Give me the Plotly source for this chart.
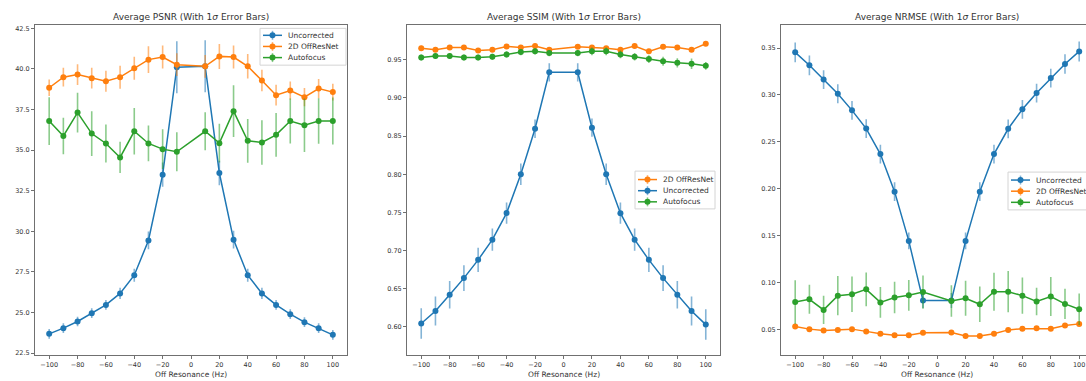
import plotly.graph_objects as go

offres = [-100, -90, -80, -70, -60, -50, -40, -30, -20, -10,
          10, 20, 30, 40, 50, 60, 70, 80, 90, 100]

# PSNR
psnr_unc = [23.69, 24.04, 24.45, 24.96, 25.47, 26.18, 27.3, 29.44, 33.49, 40.1,
            40.16, 33.59, 29.49, 27.3, 26.18, 25.47, 24.9, 24.41, 24.04, 23.63]
psnr_unc_sd = [0.3, 0.3, 0.3, 0.3, 0.3, 0.35, 0.4, 0.55, 0.75, 1.6,
               1.6, 0.75, 0.55, 0.4, 0.35, 0.3, 0.3, 0.3, 0.3, 0.3]
psnr_net = [38.84, 39.49, 39.65, 39.43, 39.24, 39.49, 40.04, 40.57, 40.73, 40.26,
            40.16, 40.77, 40.73, 40.16, 39.28, 38.38, 38.67, 38.26, 38.79, 38.57]
psnr_net_sd = [0.51, 0.58, 0.64, 0.64, 0.64, 0.71, 0.71, 0.82, 0.71, 0.7,
               0.7, 0.77, 0.71, 0.75, 0.66, 0.64, 0.56, 0.56, 0.59, 0.51]
psnr_af = [36.79, 35.87, 37.31, 36.02, 35.41, 34.55, 36.16, 35.41, 35.06, 34.9,
           36.16, 35.43, 37.40, 35.57, 35.47, 35.94, 36.79, 36.53, 36.79, 36.79]
psnr_af_sd = [1.47, 1.12, 1.22, 1.38, 1.17, 0.96, 1.43, 1.1, 1.22, 1.2,
              1.17, 1.19, 1.6, 1.35, 1.37, 1.35, 1.38, 1.65, 1.4, 1.45]

# SSIM
ssim_unc = [0.6044, 0.6209, 0.6422, 0.6639, 0.6878, 0.7143, 0.7491, 0.80, 0.8596, 0.9335,
            0.9335, 0.861, 0.80, 0.749, 0.7143, 0.6878, 0.6639, 0.6422, 0.6209, 0.6030]
ssim_unc_sd = [0.02, 0.019, 0.018, 0.017, 0.016, 0.0146, 0.014, 0.014, 0.012, 0.012,
               0.012, 0.012, 0.014, 0.014, 0.0146, 0.016, 0.017, 0.018, 0.019, 0.02]
ssim_net = [0.9652, 0.963, 0.966, 0.966, 0.962, 0.963, 0.9674, 0.966, 0.968, 0.963,
            0.967, 0.966, 0.965, 0.963, 0.968, 0.961, 0.967, 0.966, 0.963, 0.971]
ssim_net_sd = [0.003] * 20
ssim_af = [0.953, 0.955, 0.955, 0.953, 0.953, 0.954, 0.957, 0.960, 0.961, 0.9587,
           0.9587, 0.961, 0.961, 0.957, 0.954, 0.9509, 0.948, 0.946, 0.9448, 0.942]
ssim_af_sd = [0.004, 0.004, 0.004, 0.004, 0.004, 0.004, 0.004, 0.004, 0.004, 0.004,
              0.004, 0.005, 0.005, 0.005, 0.005, 0.005, 0.006, 0.006, 0.007, 0.005]

# NRMSE
nrmse_unc = [0.3454, 0.3316, 0.3164, 0.3013, 0.2836, 0.2642, 0.237, 0.197, 0.1445, 0.0809,
             0.0809, 0.1445, 0.197, 0.237, 0.264, 0.2847, 0.302, 0.318, 0.333, 0.3464]
nrmse_unc_sd = [0.0106, 0.0105, 0.01, 0.01, 0.01, 0.01, 0.01, 0.01, 0.009, 0.008,
                0.008, 0.009, 0.01, 0.01, 0.01, 0.01, 0.01, 0.01, 0.0105, 0.0106]
nrmse_net = [0.0534, 0.0505, 0.049, 0.0497, 0.0505, 0.0481, 0.0456, 0.0439, 0.0439, 0.0467,
             0.047, 0.0432, 0.0432, 0.0456, 0.0497, 0.051, 0.0514, 0.051, 0.0544, 0.0561]
nrmse_net_sd = [0.002] * 20
nrmse_af = [0.0794, 0.0823, 0.071, 0.0862, 0.0876, 0.0929, 0.079, 0.0841, 0.0865, 0.09,
            0.0805, 0.0834, 0.077, 0.0904, 0.0904, 0.0862, 0.08, 0.0852, 0.0774, 0.0717]
nrmse_af_sd = [0.0233, 0.0155, 0.015, 0.021, 0.0189, 0.018, 0.0164, 0.0168, 0.0164, 0.0177,
               0.0168, 0.0187, 0.0189, 0.0203, 0.022, 0.0194, 0.0147, 0.0208, 0.0162, 0.0168]

titles = ["Average PSNR (With 1<i>σ</i> Error Bars)",
          "Average SSIM (With 1<i>σ</i> Error Bars)",
          "Average NRMSE (With 1<i>σ</i> Error Bars)"]
xlabel = "Off Resonance (Hz)"

BLUE = "#1f77b4"
ORANGE = "#ff7f0e"
GREEN = "#2ca02c"
ERR = {BLUE: "rgba(31,119,180,0.55)", ORANGE: "rgba(255,127,14,0.55)", GREEN: "rgba(44,160,44,0.55)"}

W, H = 1086, 381
FONT = "DejaVu Sans"

fig = go.Figure()
panel_entries = {1: [], 2: [], 3: []}


def add(x, y, sd, name, color, ax):
    sfx = "" if ax == 1 else str(ax)
    fig.add_trace(go.Scatter(
        x=x, y=y, name=name, mode="lines+markers", showlegend=False,
        line=dict(color=color, width=1.5),
        marker=dict(color=color, size=6),
        error_y=dict(type="data", array=sd, visible=True, color=ERR[color],
                     thickness=1.6, width=0),
        xaxis="x" + sfx, yaxis="y" + sfx,
    ))
    panel_entries[ax].append((name, color))


add(offres, psnr_unc, psnr_unc_sd, "Uncorrected", BLUE, 1)
add(offres, psnr_net, psnr_net_sd, "2D OffResNet", ORANGE, 1)
add(offres, psnr_af, psnr_af_sd, "Autofocus", GREEN, 1)

add(offres, ssim_net, ssim_net_sd, "2D OffResNet", ORANGE, 2)
add(offres, ssim_unc, ssim_unc_sd, "Uncorrected", BLUE, 2)
add(offres, ssim_af, ssim_af_sd, "Autofocus", GREEN, 2)

add(offres, nrmse_unc, nrmse_unc_sd, "Uncorrected", BLUE, 3)
add(offres, nrmse_net, nrmse_net_sd, "2D OffResNet", ORANGE, 3)
add(offres, nrmse_af, nrmse_af_sd, "Autofocus", GREEN, 3)

ytop = 1 - 25 / H
ybot = 1 - 357 / H
xdoms = [(35 / W, 347 / W), (407 / W, 720 / W), (781 / W, 1.0)]
xranges = [[-110, 110], [-110, 110], [-110, 104.8]]
yranges = [[22.38, 42.71], [0.563, 0.9957], [0.0228, 0.3747]]
ydtick = [2.5, 0.05, 0.05]
yfmt = [".1f", ".2f", ".2f"]
ytick0 = [22.5, 0.6, 0.05]

axcommon = dict(showgrid=False, zeroline=False, showline=True, linecolor="#707070",
                linewidth=1, ticks="outside", ticklen=3, tickcolor="#707070",
                tickfont=dict(family=FONT, size=6.5, color="#333"))

layout = dict(width=W, height=H, margin=dict(l=0, r=0, t=0, b=0),
              paper_bgcolor="white", plot_bgcolor="white", showlegend=False,
              font=dict(family=FONT, color="#333"))

for i in range(3):
    sfx = "" if i == 0 else str(i + 1)
    layout["xaxis" + sfx] = dict(axcommon, domain=list(xdoms[i]), range=xranges[i],
                                 tickmode="linear", tick0=-100, dtick=20,
                                 mirror=True, anchor="y" + sfx)
    layout["yaxis" + sfx] = dict(axcommon, domain=[ybot, ytop], range=yranges[i],
                                 tickmode="linear", tick0=ytick0[i], dtick=ydtick[i],
                                 tickformat=yfmt[i], mirror=(i < 2), anchor="x" + sfx)

ann = []
shapes = []
centers = [(35 + 347) / 2, (407 + 720) / 2, (781 + 1093) / 2]
for i in range(3):
    ann.append(dict(text=titles[i], x=centers[i] / W, y=1 - 17 / H, xref="paper", yref="paper",
                    showarrow=False, xanchor="center", yanchor="middle",
                    font=dict(family=FONT, size=9, color="#333")))
    ann.append(dict(text=xlabel, x=centers[i] / W, y=1 - 376 / H, xref="paper", yref="paper",
                    showarrow=False, xanchor="center", yanchor="middle",
                    font=dict(family=FONT, size=7.5, color="#333")))

# legend boxes (pixel layout: box left, box top, box right, box bottom, first row y)
legend_boxes = {1: (260, 28.5, 346, 65.5, 35.5),
                2: (635, 172, 715, 210, 180.5),
                3: (1008, 173, 1092, 211, 181)}
ROW = 11.2


def px(x):
    return x / W


def py(y):
    return 1 - y / H


for ax, (bl, bt, br, bb, y0) in legend_boxes.items():
    shapes.append(dict(type="rect", xref="paper", yref="paper",
                       x0=px(bl), x1=px(br), y0=py(bb), y1=py(bt),
                       fillcolor="rgba(255,255,255,0.85)", line=dict(color="#d4d4d4", width=1),
                       layer="above"))
    for k, (name, color) in enumerate(panel_entries[ax]):
        yy = y0 + k * ROW
        lx0, lx1 = bl + 3, bl + 22
        mx = (lx0 + lx1) / 2
        shapes.append(dict(type="line", xref="paper", yref="paper",
                           x0=px(lx0), x1=px(lx1), y0=py(yy), y1=py(yy),
                           line=dict(color=color, width=1.5), layer="above"))
        shapes.append(dict(type="line", xref="paper", yref="paper",
                           x0=px(mx), x1=px(mx), y0=py(yy - 4.5), y1=py(yy + 4.5),
                           line=dict(color=ERR[color], width=1.5), layer="above"))
        shapes.append(dict(type="circle", xref="paper", yref="paper",
                           x0=px(mx - 3), x1=px(mx + 3), y0=py(yy + 3), y1=py(yy - 3),
                           fillcolor=color, line=dict(color=color, width=0), layer="above"))
        ann.append(dict(text=name, x=px(lx1 + 4), y=py(yy), xref="paper", yref="paper",
                        showarrow=False, xanchor="left", yanchor="middle",
                        font=dict(family=FONT, size=7.5, color="#333")))

layout["annotations"] = ann
layout["shapes"] = shapes

fig.update_layout(**layout)
fig.write_html("out.html")
